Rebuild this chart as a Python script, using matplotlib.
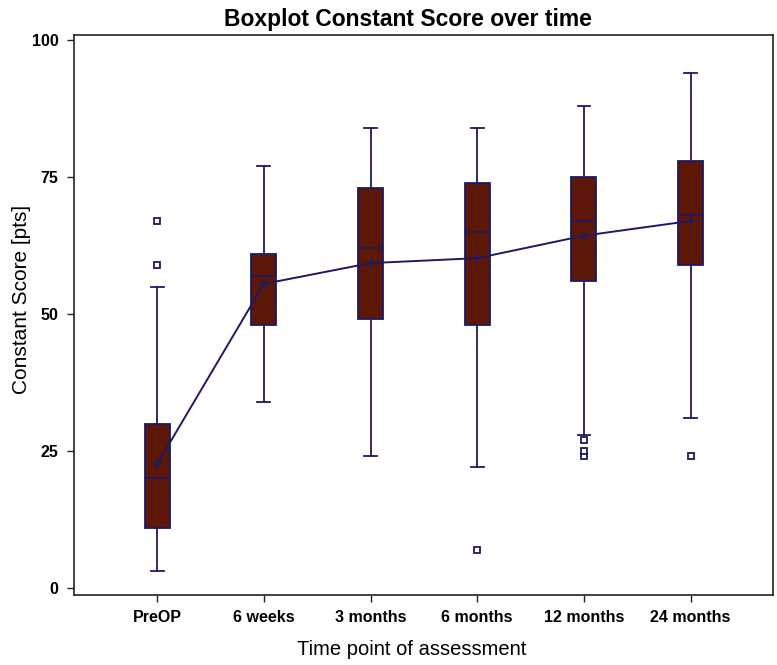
import matplotlib
matplotlib.use('Agg')
import matplotlib.pyplot as plt

plt.rcParams['font.family'] = ['Liberation Sans', 'DejaVu Sans']

# Box statistics
labels = ['PreOP', '6 weeks', '3 months', '6 months', '12 months', '24 months']
whislo = [3, 34, 24, 22, 28, 31]
q1 = [11, 48, 49, 48, 56, 59]
med = [20, 57, 62, 65, 67, 68]
q3 = [30, 61, 73, 74, 75, 78]
whishi = [55, 77, 84, 84, 88, 94]
means = [22.6, 55.5, 59.3, 60.2, 64.3, 67.0]
fliers = [[59, 67], [], [], [7], [24, 25, 27], [24]]

edge = '#1c1a66'
fill = '#5c1707'

stats = []
for i in range(len(labels)):
    stats.append({'label': labels[i], 'whislo': whislo[i], 'q1': q1[i], 'med': med[i],
                  'q3': q3[i], 'whishi': whishi[i], 'fliers': fliers[i]})

fig = plt.figure(figsize=(7.77, 6.65), dpi=100)
ax = fig.add_axes([0.0952, 0.1053, 0.8993, 0.8425])

pos = list(range(1, len(labels) + 1))
ax.bxp(stats, positions=pos, widths=0.235, patch_artist=True, showfliers=True,
       boxprops=dict(facecolor=fill, edgecolor=edge, linewidth=1.3),
       medianprops=dict(color=edge, linewidth=1.3),
       whiskerprops=dict(color=edge, linewidth=1.3),
       capprops=dict(color=edge, linewidth=1.3),
       capwidths=0.12,
       flierprops=dict(marker='s', markersize=5, markerfacecolor='white',
                       markeredgecolor=edge, markeredgewidth=1.3))

ax.plot(pos, means, color=edge, linewidth=1.4, marker='+', markersize=7,
        markeredgewidth=1.2, zorder=5)

ax.set_xlim(0.22, 6.77)
ax.set_ylim(-1.3, 101)
ax.set_yticks([0, 25, 50, 75, 100])
ax.set_xticks(pos)
ax.set_xticklabels(labels)
for lab in ax.get_xticklabels() + ax.get_yticklabels():
    lab.set_fontweight('bold')
    lab.set_fontsize(11.5)
ax.tick_params(axis='both', length=5, width=1, color='#222222', pad=6)
for sp in ax.spines.values():
    sp.set_linewidth(1.2)
    sp.set_color('#222222')

ax.set_ylabel('Constant Score [pts]', fontsize=15)
ax.yaxis.set_label_coords(-0.061, 0.528)
ax.set_xlabel('Time point of assessment', fontsize=14.5)
ax.xaxis.set_label_coords(0.483, -0.08)
fig.text(0.525, 0.97, 'Boxplot Constant Score over time', ha='center', va='center',
         fontsize=16.5, fontweight='bold')

plt.savefig('out.png', dpi=100)
